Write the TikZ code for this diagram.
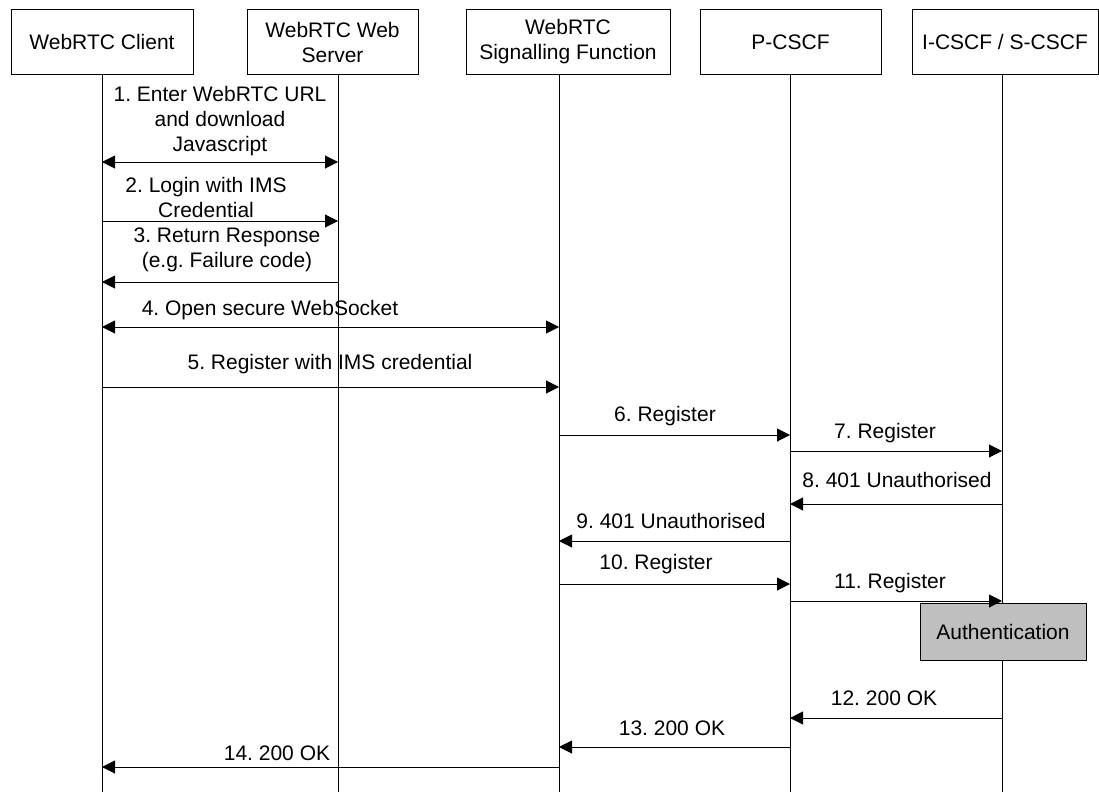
\documentclass[tikz,border=0pt]{standalone}
\usepackage{fontspec}
\setmainfont{Liberation Sans}
\frenchspacing
\usetikzlibrary{arrows.meta}
\begin{document}
\begin{tikzpicture}[x=1pt,y=-1pt,
  every node/.style={font=\fontsize{21}{25}\selectfont},
  entity/.style={draw,line width=1pt,align=center,inner sep=0pt,minimum height=64pt},
  lifeline/.style={line width=1pt},
  msg/.style={line width=1pt,-{Triangle[length=13pt,width=13pt]}},
  bimsg/.style={line width=1pt,{Triangle[length=13pt,width=13pt]}-{Triangle[length=13pt,width=13pt]}},
  lbl/.style={align=center,inner sep=0pt},
  procbox/.style={draw,line width=1pt,fill=black!25,inner sep=0pt,minimum width=166pt,minimum height=57pt}]
\useasboundingbox (0,0) rectangle (1099,792);

% participants
\node[entity,minimum width=182pt] (client) at (102,42) {WebRTC Client};
\node[entity,minimum width=171pt] (server) at (332.5,42) {WebRTC Web\\Server};
\node[entity,minimum width=204pt] (sig) at (568,42) {WebRTC\\Signalling Function};
\node[entity,minimum width=181pt] (pcscf) at (790.5,42) {P-CSCF};
\node[entity,minimum width=186pt] (scscf) at (1005,42) {I-CSCF / S-CSCF};

% lifeline anchors
\coordinate (l1) at (102,74);
\coordinate (l2) at (338,74);
\coordinate (l3) at (559,74);
\coordinate (l4) at (790,74);
\coordinate (l5) at (1002,74);
\coordinate (bottom) at (0,792);

\node[procbox] (auth) at (1003,632) {Authentication};

\draw[lifeline] (l1) -- (l1 |- bottom);
\draw[lifeline] (l2) -- (l2 |- bottom);
\draw[lifeline] (l3) -- (l3 |- bottom);
\draw[lifeline] (l4) -- (l4 |- bottom);
\draw[lifeline] (l5) -- (l5 |- auth.north);
\draw[lifeline] (l5 |- auth.south) -- (l5 |- bottom);

% messages
\draw[bimsg] (l1 |- 0,162) -- (l2 |- 0,162);
\node[lbl] (t1) at (220,121) {1. Enter WebRTC URL\\and download\\Javascript};

\draw[msg] (l1 |- 0,221) -- (l2 |- 0,221);
\node[lbl] (t2) at (206,197) {2. Login with IMS\\Credential};

\draw[msg] (l2 |- 0,282) -- (l1 |- 0,282);
\node[lbl] (t3) at (227,250) {3. Return Response\\(e.g. Failure code)};

\draw[bimsg] (l1 |- 0,327) -- (l3 |- 0,327);
\node[lbl] (t4) at (270,310) {4. Open secure WebSocket};

\draw[msg] (l1 |- 0,387) -- (l3 |- 0,387);
\node[lbl] (t5) at (330,364) {5. Register with IMS credential};

\draw[msg] (l3 |- 0,435) -- (l4 |- 0,435);
\node[lbl] (t6) at (665,416) {6. Register};

\draw[msg] (l4 |- 0,451) -- (l5 |- 0,451);
\node[lbl] (t7) at (885,433) {7. Register};

\draw[msg] (l5 |- 0,504) -- (l4 |- 0,504);
\node[lbl] (t8) at (897,480) {8. 401 Unauthorised};

\draw[msg] (l4 |- 0,541) -- (l3 |- 0,541);
\node[lbl] (t9) at (671,521) {9. 401 Unauthorised};

\draw[msg] (l3 |- 0,584) -- (l4 |- 0,584);
\node[lbl] (t10) at (656,564) {10. Register};

\draw[msg] (l4 |- 0,601) -- (l5 |- 0,601);
\node[lbl] (t11) at (890,583) {11. Register};

\draw[msg] (l5 |- 0,718) -- (l4 |- 0,718);
\node[lbl] (t12) at (884,698) {12. 200 OK};

\draw[msg] (l4 |- 0,747) -- (l3 |- 0,747);
\node[lbl] (t13) at (672,728) {13. 200 OK};

\draw[msg] (l3 |- 0,767) -- (l1 |- 0,767);
\node[lbl] (t14) at (277,753) {14. 200 OK};
\end{tikzpicture}
\end{document}
